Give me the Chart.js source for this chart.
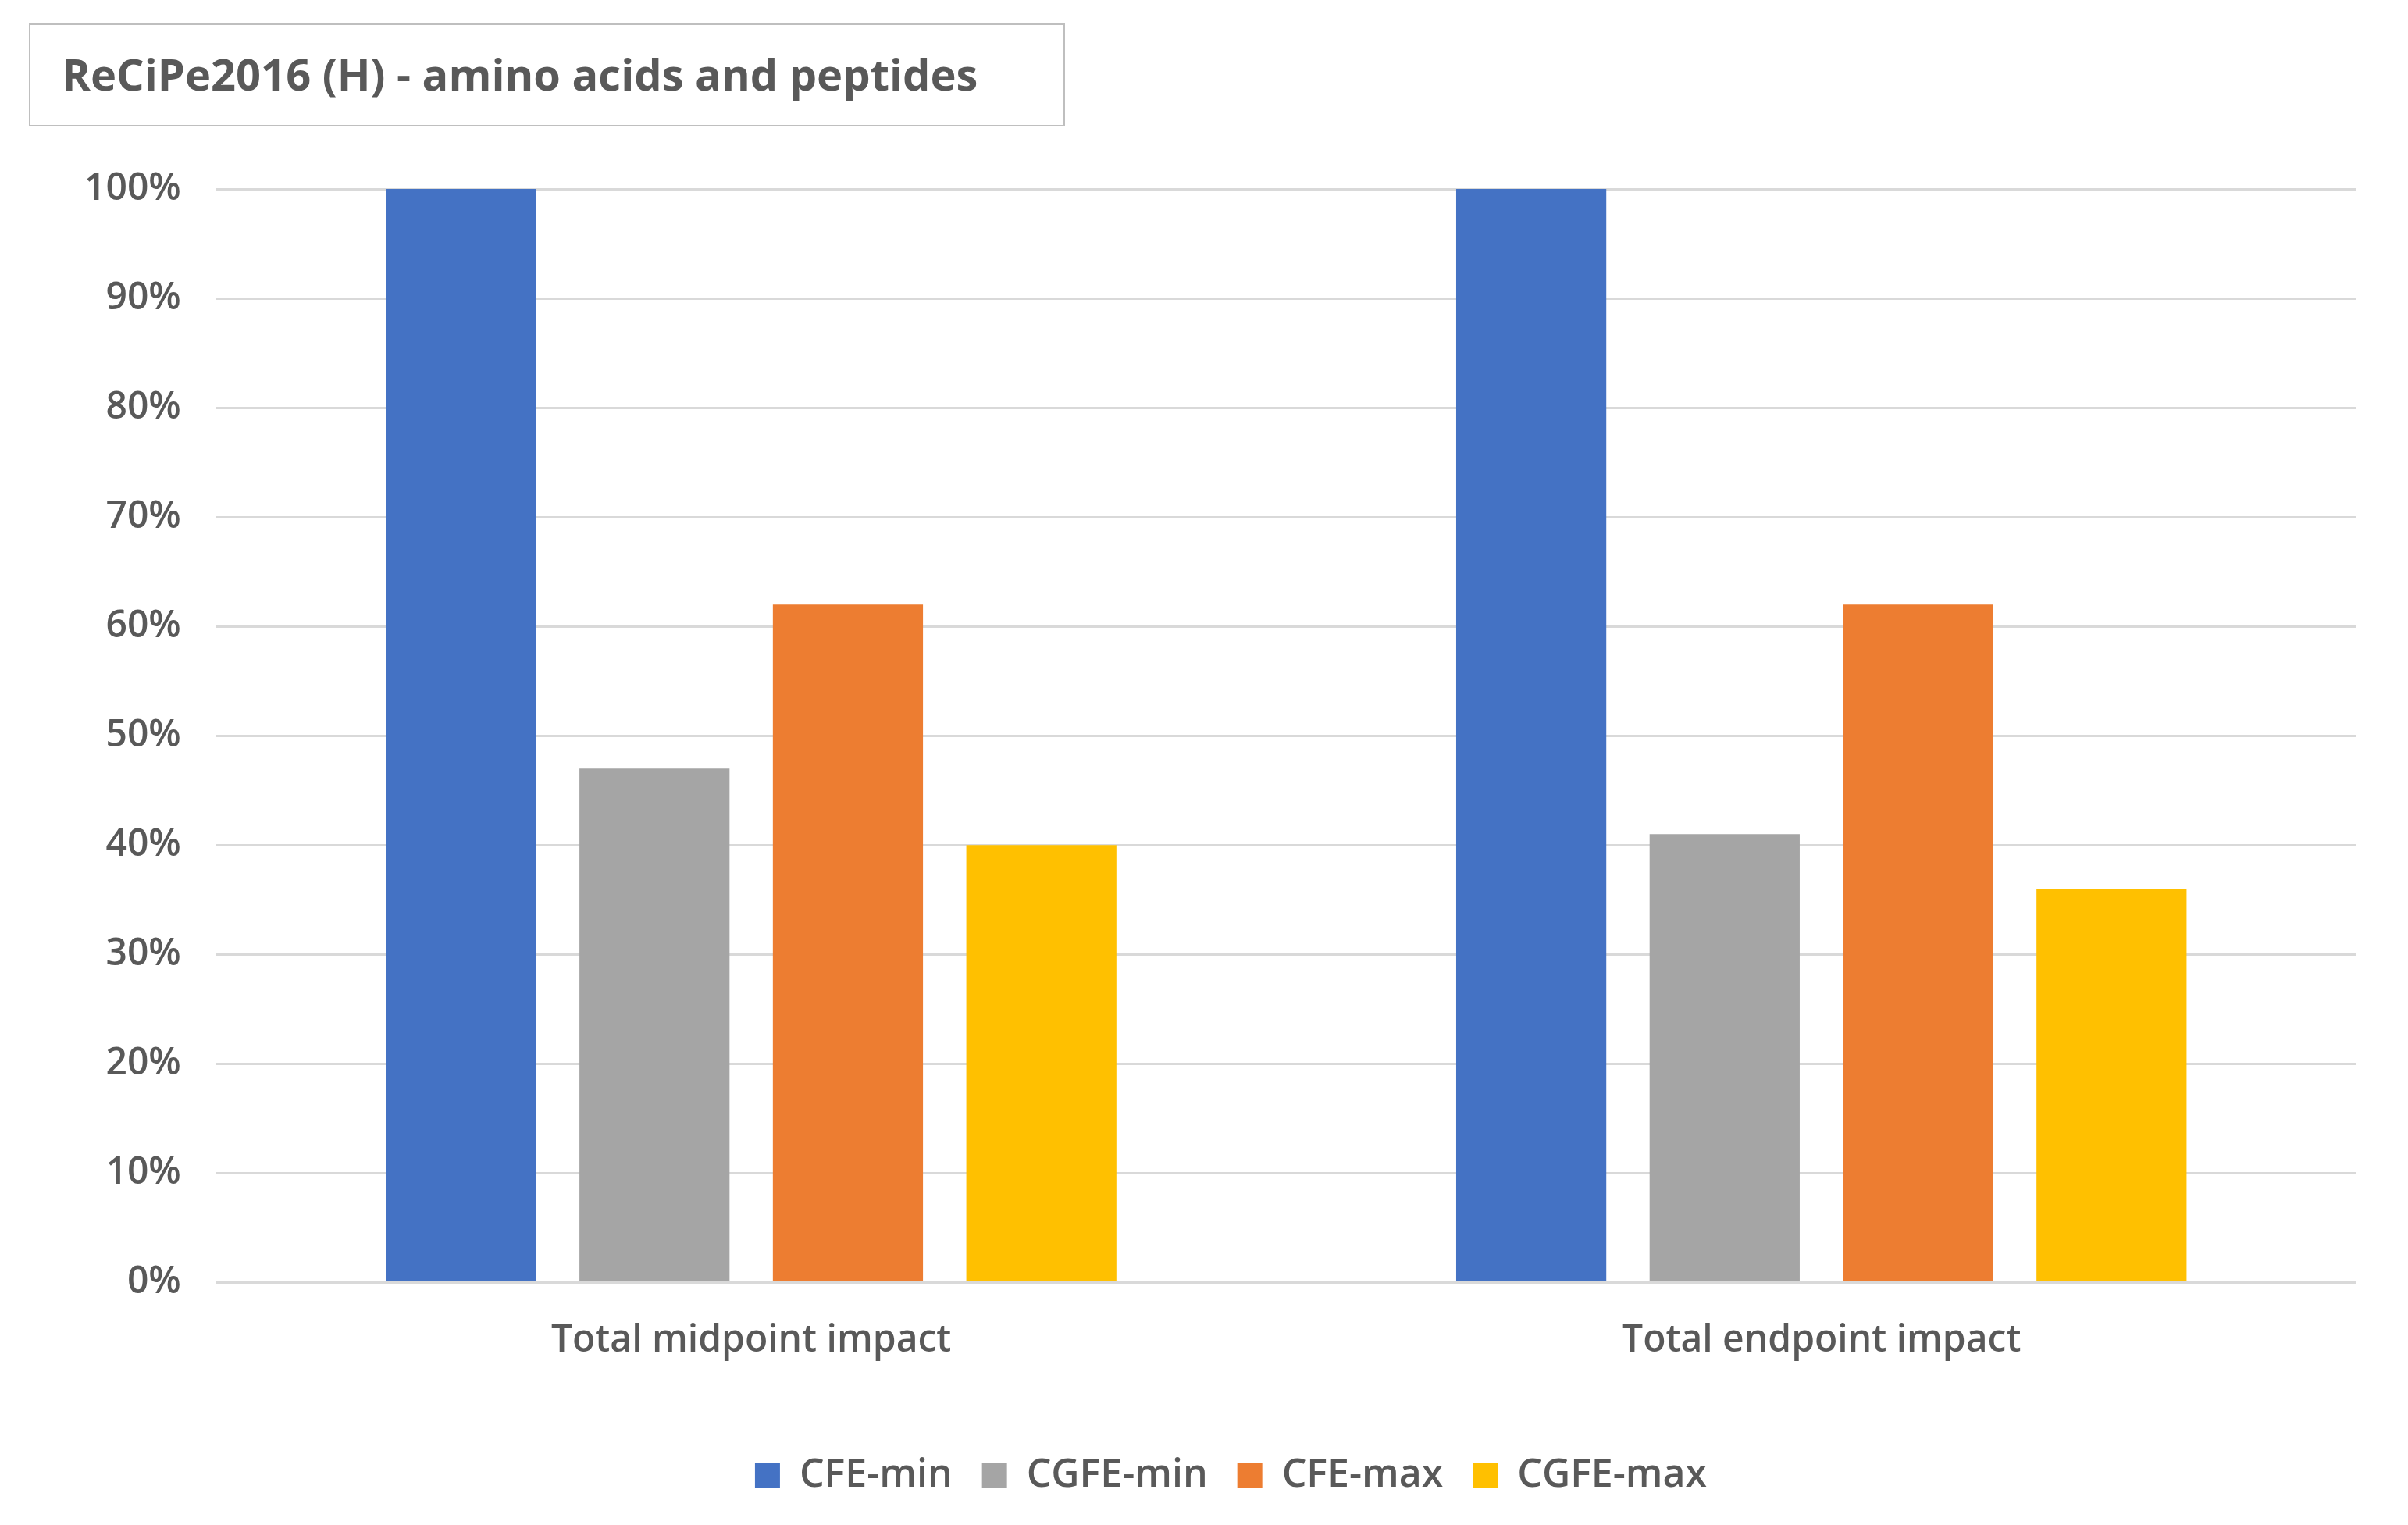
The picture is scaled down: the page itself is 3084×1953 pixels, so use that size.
<!DOCTYPE html>
<html>
<head>
<meta charset="utf-8">
<script src="https://cdn.jsdelivr.net/npm/chart.js@4.4.1/dist/chart.umd.min.js"></script>
<style>
  html, body { margin: 0; padding: 0; background: #ffffff; }
  #wrap { position: relative; width: 3084px; height: 1953px; }
  #title {
    position: absolute; left: 37px; top: 30px; width: 1327px; height: 132px;
    border: 2px solid #BFBFBF; box-sizing: border-box;
    font-family: "Open Sans", sans-serif; font-weight: 700; font-size: 56px;
    color: #595959; line-height: 124px; padding-left: 40px; white-space: nowrap;
  }
</style>
</head>
<body>
<div id="wrap">
  <canvas id="c" width="3084" height="1953"></canvas>
  <div id="title">ReCiPe2016 (H) - amino acids and peptides</div>
</div>
<script>
const categories = ["Total midpoint impact", "Total endpoint impact"];
const seriesNames = ["CFE-min", "CGFE-min", "CFE-max", "CGFE-max"];
const cfeMin = [100, 100];
const cgfeMin = [47, 41];
const cfeMax = [62, 62];
const cgfeMax = [40, 36];
const yTicks = [0, 10, 20, 30, 40, 50, 60, 70, 80, 90, 100];
const colors = ["#4472C4", "#A5A5A5", "#ED7D31", "#FFC000"];

const seriesValues = [cfeMin, cgfeMin, cfeMax, cgfeMax];
const font = { family: "'Open Sans', sans-serif", size: 48, weight: 600 };
const legendFont = { family: "'Open Sans', sans-serif", size: 50, weight: 600 };

const shiftLegend = {
  id: "shiftLegend",
  afterLayout(chart) {
    if (chart.legend) { chart.legend.left += 36; chart.legend.right += 36; }
  }
};

new Chart(document.getElementById("c"), {
  type: "bar",
  data: {
    labels: categories,
    datasets: seriesNames.map((name, i) => ({
      label: name,
      data: seriesValues[i],
      backgroundColor: colors[i],
      borderWidth: 0,
      categoryPercentage: 0.723,
      barPercentage: 0.776
    }))
  },
  plugins: [shiftLegend],
  options: {
    responsive: false,
    animation: false,
    devicePixelRatio: 1,
    layout: { padding: { left: 63, right: 66, top: 242, bottom: 28 } },
    plugins: {
      title: { display: false },
      tooltip: { enabled: false },
      legend: {
        position: "bottom",
        labels: {
          boxWidth: 32, boxHeight: 32, padding: 38,
          color: "#595959", font: legendFont
        }
      }
    },
    scales: {
      x: {
        grid: { display: false, drawTicks: false },
        border: { display: false },
        ticks: { color: "#595959", font: font, padding: 46 },
        afterFit: (axis) => { axis.height += 35; }
      },
      y: {
        min: 0, max: 100,
        afterBuildTicks: (axis) => { axis.ticks = yTicks.map(v => ({ value: v })); },
        grid: { color: "#D9D9D9", lineWidth: 3, drawTicks: false },
        border: { display: false },
        ticks: {
          color: "#595959", font: font, padding: 45,
          callback: (v) => v + "%"
        }
      }
    }
  }
});
</script>
</body>
</html>
